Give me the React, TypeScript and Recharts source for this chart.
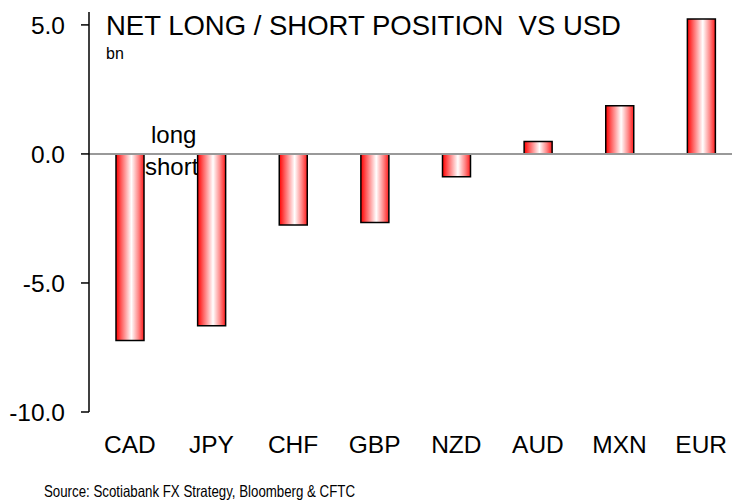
import React from "react";
import { BarChart, Bar, XAxis, YAxis, ReferenceLine } from "recharts";

const currencies = ["CAD", "JPY", "CHF", "GBP", "NZD", "AUD", "MXN", "EUR"];
const netPosition = [-7.23, -6.66, -2.75, -2.66, -0.88, 0.48, 1.87, 5.23];
const yTicks = [-10, -5, 0, 5];

const TITLE = "NET LONG / SHORT POSITION  VS USD";
const UNIT = "bn";
const SOURCE = "Source: Scotiabank FX Strategy, Bloomberg & CFTC";

const FONT = "'Liberation Sans', Arial, sans-serif";

export default function App() {
  const data = currencies.map((ccy, i) => ({ ccy, value: netPosition[i] }));

  return (
    <div
      style={{
        position: "fixed",
        left: 0,
        top: 0,
        width: 732,
        height: 503,
        overflow: "hidden",
        background: "#fff",
        fontFamily: FONT,
      }}
    >
      <BarChart
        width={760}
        height={503}
        data={data}
        margin={{ top: 12, right: 18, left: 0, bottom: 51 }}
        barSize={28}
      >
        <defs>
          <linearGradient id="barGradient" x1="0" y1="0" x2="1" y2="0">
            <stop offset="0%" stopColor="#ff0000" />
            <stop offset="20%" stopColor="#ff6060" />
            <stop offset="55%" stopColor="#ffffff" />
            <stop offset="80%" stopColor="#ff8888" />
            <stop offset="100%" stopColor="#ff1a1a" />
          </linearGradient>
        </defs>
        <XAxis
          dataKey="ccy"
          axisLine={false}
          tickLine={false}
          tickSize={0}
          tickMargin={24}
          height={40}
          interval={0}
          tick={{ fill: "#000", fontSize: 24.5, fontFamily: FONT }}
        />
        <YAxis
          width={89}
          domain={[-10, 5.5]}
          ticks={yTicks}
          allowDataOverflow
          tickFormatter={(v: number) => v.toFixed(1)}
          axisLine={{ stroke: "#000", strokeWidth: 1.5 }}
          tickLine={{ stroke: "#000", strokeWidth: 1.5 }}
          tickSize={8}
          tickMargin={16}
          tick={{ fill: "#000", fontSize: 24.5, fontFamily: FONT }}
        />
        <Bar
          dataKey="value"
          fill="url(#barGradient)"
          stroke="#000"
          strokeWidth={1.5}
          isAnimationActive={false}
        />
        <ReferenceLine y={0} stroke="#999" strokeWidth={2} />
        <text
          x={106}
          y={35}
          fontSize={27.5}
          fontFamily={FONT}
          fill="#000"
          style={{ whiteSpace: "pre" }}
        >
          {TITLE}
        </text>
        <text x={106} y={59} fontSize={16} fontFamily={FONT} fill="#000">
          {UNIT}
        </text>
        <text x={151} y={143} fontSize={24} fontFamily={FONT} fill="#000">
          long
        </text>
        <text x={145} y={175} fontSize={24} fontFamily={FONT} fill="#000">
          short
        </text>
        <text
          x={44}
          y={497}
          fontSize={16.5}
          textLength={311}
          lengthAdjust="spacingAndGlyphs"
          fontFamily={FONT}
          fill="#000"
        >
          {SOURCE}
        </text>
      </BarChart>
    </div>
  );
}
